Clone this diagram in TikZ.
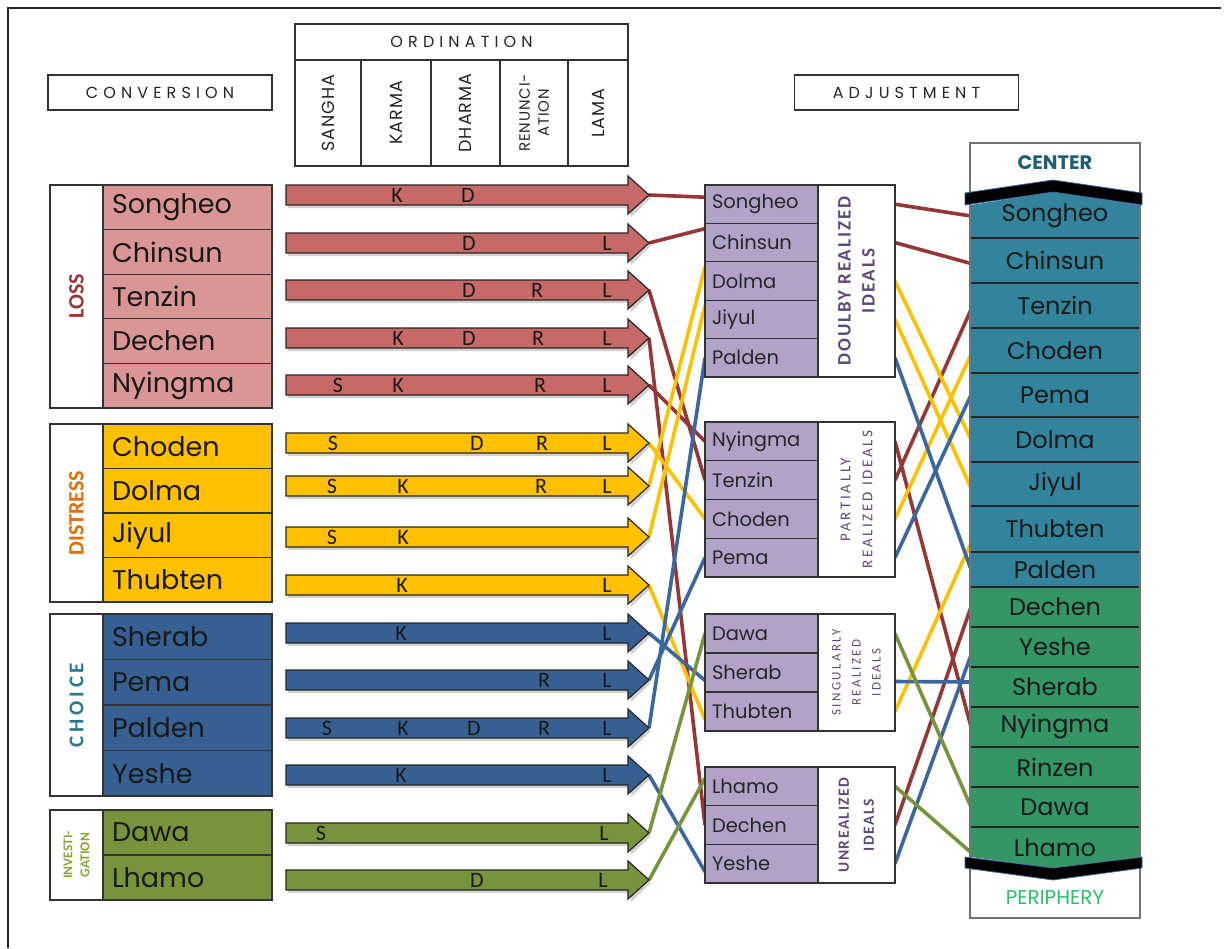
\documentclass[tikz,border=0pt]{standalone}
\usepackage{fontspec}
\setmainfont{Poppins}
\newfontfamily\cfont{Carlito}
\newfontfamily\widefont[LetterSpace=32]{Poppins}
\newfontfamily\colfont[LetterSpace=6]{Poppins}
\newfontfamily\cwide[LetterSpace=18]{Carlito}
\newfontfamily\cmid[LetterSpace=10]{Carlito}
\usetikzlibrary{calc}
\pgfdeclarelayer{background}
\pgfsetlayers{background,main}

\definecolor{lossfill}{HTML}{D99694}
\definecolor{lossarrow}{HTML}{C76966}
\definecolor{distfill}{HTML}{FFC000}
\definecolor{choicefill}{HTML}{376092}
\definecolor{invfill}{HTML}{77933C}
\definecolor{midfill}{HTML}{B3A2C7}
\definecolor{tealfill}{HTML}{31849B}
\definecolor{greenfill}{HTML}{339664}
\definecolor{linered}{HTML}{953735}
\definecolor{lineyellow}{HTML}{FFC000}
\definecolor{lineblue}{HTML}{3A67A0}
\definecolor{linegreen}{HTML}{77933C}
\definecolor{losstext}{HTML}{953735}
\definecolor{disttext}{HTML}{E46C0A}
\definecolor{choicetext}{HTML}{2A7890}
\definecolor{invtext}{HTML}{8AA43A}
\definecolor{idealtext}{HTML}{5F497A}
\definecolor{centertext}{HTML}{1F5F73}
\definecolor{peritext}{HTML}{2DBE6C}

\tikzset{
  every node/.style={inner sep=0pt, outer sep=0pt},
  boxline/.style={draw=black!80, line width=1.3pt},
  titlebox/.style={boxline, fill=white, minimum width=224, minimum height=35,
    font=\widefont\fontsize{16}{18}\selectfont, text=black!85},
  ordcell/.style={boxline, fill=white},
  ordtext/.style={rotate=90, align=center, font=\colfont\fontsize{17.5}{19}\selectfont, text=black!85},
  glabel/.style={boxline, fill=white, minimum width=53},
  lname/.style={boxline, minimum width=169, text width=151, align=left,
    font=\fontsize{27}{30}\selectfont, text=black!90},
  mname/.style={boxline, fill=midfill, minimum width=113, text width=99, align=left,
    font=\fontsize{19.5}{21}\selectfont, text=black!85},
  mlabel/.style={boxline, fill=white, minimum width=77},
  mtext/.style={rotate=90, align=center, text=idealtext},
  stext/.style={minimum width=168, font=\fontsize{24}{27}\selectfont, text=black!90},
  arrowedge/.style={draw=black!85, line width=1.2pt},
  ltr/.style={font=\cfont\fontsize{22}{22}\selectfont, text=black!90},
  conn/.style={line width=3.6pt},
  cred/.style={conn, draw=linered},
  cyel/.style={conn, draw=lineyellow},
  cblu/.style={conn, draw=lineblue},
  cgrn/.style={conn, draw=linegreen},
}

% conversion arrow: name, centre y, fill colour, letters (x/letter)
\newcommand\convarrow[4]{%
  \fill[black, opacity=.18] (288,#2-7) -- (631,#2-7) -- (631,#2-16) -- (651,#2+3)
    -- (631,#2+22) -- (631,#2+13) -- (288,#2+13) -- cycle;
  \draw[arrowedge, fill=#3] (286,#2-10) -- (628,#2-10) -- (628,#2-19) -- (649,#2)
    -- (628,#2+19) -- (628,#2+10) -- (286,#2+10) -- cycle;
  \coordinate (a#1) at (649,#2);
  \foreach \lpos/\lchr in {#4} \node[ltr] (a#1\lchr) at (\lpos,#2) {\lchr};
}

\begin{document}
\begin{tikzpicture}[x=1pt,y=-1pt]
\useasboundingbox (0,0) rectangle (1228,948);
\draw[black!85, line width=1.5pt] (8,948) -- (8,8) -- (1221,8);

% ---------- headings ----------
\node[titlebox] (conv) at (160,92.5) {CONVERSION};
\node[titlebox] (adj) at (906.5,92.5) {ADJUSTMENT};

\node[ordcell, minimum width=333, minimum height=36, font=\widefont\fontsize{16}{18}\selectfont, text=black!85]
  (ordH) at (461.5,42) {ORDINATION};
\node[ordcell, minimum width=66, minimum height=106] (oc1) at (328,113) {};
\node[ordcell, minimum width=70, minimum height=106] (oc2) at (396,113) {};
\node[ordcell, minimum width=69, minimum height=106] (oc3) at (465.5,113) {};
\node[ordcell, minimum width=68, minimum height=106] (oc4) at (534,113) {};
\node[ordcell, minimum width=60, minimum height=106] (oc5) at (598,113) {};
\node[ordtext] (ot1) at (oc1) {SANGHA};
\node[ordtext] (ot2) at (oc2) {KARMA};
\node[ordtext] (ot3) at (oc3) {DHARMA};
\node[ordtext, font=\colfont\fontsize{15}{19}\selectfont] (ot4) at (oc4) {RENUNCI-\\ATION};
\node[ordtext] (ot5) at (oc5) {LAMA};

% ---------- conversion groups ----------
\node[glabel, minimum height=223] (gLoss) at (76.5,296.5) {};
\node[rotate=90, font=\cfont\bfseries\fontsize{22}{22}\selectfont, text=losstext] (tLoss) at (gLoss) {LOSS};
\foreach \n/\c in {Songheo/207.3,Chinsun/251.9,Tenzin/296.5,Dechen/341.1,Nyingma/385.7}
  \node[lname, fill=lossfill, minimum height=44.6] (l\n) at (187.5,\c) {\n};

\node[glabel, minimum height=178] (gDist) at (76.5,513) {};
\node[rotate=90, font=\cfont\bfseries\fontsize{22}{22}\selectfont, text=disttext] (tDist) at (gDist) {DISTRESS};
\foreach \n/\c in {Choden/446.25,Dolma/490.75,Jiyul/535.25,Thubten/579.75}
  \node[lname, fill=distfill, minimum height=44.5] (l\n) at (187.5,\c) {\n};

\node[glabel, minimum height=182] (gChoice) at (76.5,705) {};
\node[rotate=90, font=\cwide\bfseries\fontsize{21}{22}\selectfont, text=choicetext] (tChoice) at (gChoice) {CHOICE};
\foreach \n/\c in {Sherab/636.75,Pema/682.25,Palden/727.75,Yeshe/773.25}
  \node[lname, fill=choicefill, minimum height=45.5] (l\n) at (187.5,\c) {\n};

\node[glabel, minimum height=90] (gInv) at (76.5,855) {};
\node[rotate=90, align=center, font=\cfont\bfseries\fontsize{13.5}{17}\selectfont, text=invtext] (tInv) at (gInv) {INVESTI-\\GATION};
\foreach \n/\c in {Dawa/832.5,Lhamo/877.5}
  \node[lname, fill=invfill, minimum height=45] (l\n) at (187.5,\c) {\n};

% ---------- ordination arrows ----------
\convarrow{Songheo}{195}{lossarrow}{397/K,468/D}
\convarrow{Chinsun}{243}{lossarrow}{469/D,607/L}
\convarrow{Tenzin}{290}{lossarrow}{469/D,537/R,607/L}
\convarrow{Dechen}{338}{lossarrow}{398/K,469/D,538/R,607/L}
\convarrow{Nyingma}{385}{lossarrow}{338/S,398/K,540/R,607/L}
\convarrow{Choden}{443}{distfill}{333/S,477/D,542/R,607/L}
\convarrow{Dolma}{486}{distfill}{332/S,403/K,541/R,607/L}
\convarrow{Jiyul}{537}{distfill}{332/S,403/K}
\convarrow{Thubten}{585}{distfill}{402/K,607/L}
\convarrow{Sherab}{633}{choicefill}{401/K,607/L}
\convarrow{Pema}{680}{choicefill}{544/R,607/L}
\convarrow{Palden}{728}{choicefill}{327/S,403/K,474/D,544/R,607/L}
\convarrow{Yeshe}{775}{choicefill}{401/K,607/L}
\convarrow{Dawa}{833}{invfill}{321/S,604/L}
\convarrow{Lhamo}{880}{invfill}{477/D,603/L}

% ---------- adjustment groups ----------
\foreach \n/\c in {Songheo/204.2,Chinsun/242.6,Dolma/281,Jiyul/319.4,Palden/357.8}
  \node[mname, minimum height=38.4] (m\n) at (761.5,\c) {\n};
\node[mlabel, minimum height=192] (dLab) at (856.5,281) {};
\node[mtext, font=\cmid\bfseries\fontsize{19}{24}\selectfont] (dLabT) at (dLab) {DOULBY REALIZED\\IDEALS};

\foreach \n/\c in {Nyingma/441.4,Tenzin/480.1,Choden/518.9,Pema/557.6}
  \node[mname, minimum height=38.75] (m\n) at (761.5,\c) {\n};
\node[mlabel, minimum height=155] (pLab) at (856.5,499.5) {};
\node[mtext, font=\cwide\fontsize{15}{22}\selectfont] (pLabT) at (pLab) {PARTIALLY\\REALIZED IDEALS};

\foreach \n/\c in {Dawa/633.5,Sherab/672.5,Thubten/711.5}
  \node[mname, minimum height=39] (m\n) at (761.5,\c) {\n};
\node[mlabel, minimum height=117] (sgLab) at (856.5,672.5) {};
\node[mtext, font=\cwide\fontsize{13}{20}\selectfont] (sgLabT) at (sgLab) {SINGULARLY\\REALIZED\\IDEALS};

\foreach \n/\c in {Lhamo/786.3,Dechen/825,Yeshe/863.7}
  \node[mname, minimum height=38.7] (m\n) at (761.5,\c) {\n};
\node[mlabel, minimum height=116] (uLab) at (856.5,825) {};
\node[mtext, font=\cmid\bfseries\fontsize{15.5}{25}\selectfont] (uLabT) at (uLab) {UNREALIZED\\IDEALS};

% ---------- centre / periphery column ----------
\node[draw=black!55, line width=1.5pt, fill=white, minimum width=170, minimum height=775] (cBox) at (1055,530.5) {};
\fill[tealfill] (971,205) -- (1053,192) -- (1139,205) -- (1139,587) -- (971,587) -- cycle;
\fill[greenfill] (971,587) -- (1139,587) -- (1139,857) -- (1053,868) -- (971,857) -- cycle;
\foreach \yy in {238,283,328,373,417,462,506,552,587,627,667,707,747,787,827}
  \draw[black!85, line width=1.2pt] (971,\yy) -- (1139,\yy);
\foreach \n/\c/\h in {Songheo/216/42,Chinsun/260.5/45,Tenzin/305.5/45,Choden/350.5/45,Pema/395/44,
    Dolma/439.5/45,Jiyul/484/44,Thubten/529/46,Palden/569.5/35}
  \node[stext, minimum height=\h] (s\n) at (1055,\c) {\n};
\foreach \n/\c/\h in {Dechen/607/40,Yeshe/647/40,Sherab/687/40,Nyingma/727/40,Rinzen/767/40,
    Dawa/807/40,Lhamo/847.5/41}
  \node[stext, minimum height=\h] (s\n) at (1055,\c) {\n};
\draw[draw=lineblue, line width=0.8pt, fill=black] (965,193) -- (1053,180) -- (1142,193)
  -- (1142,205) -- (1053,192) -- (965,205) -- cycle;
\draw[draw=lineblue, line width=0.8pt, fill=black] (965,857) -- (1053,868) -- (1142,857)
  -- (1142,868) -- (1053,880) -- (965,868) -- cycle;
\node[font=\bfseries\fontsize{19.5}{22}\selectfont, text=centertext] (cTitle) at (1055,163) {CENTER};
\node[font=\fontsize{20}{22}\selectfont, text=peritext] (pTitle) at (1055,898) {PERIPHERY};

% ---------- connectors, kept behind the boxes ----------
\begin{pgfonlayer}{background}
% conversion -> adjustment
\draw[cred] (aSongheo) -- ($(mSongheo.west)+(0,-7)$);
\draw[cred] (aChinsun) -- ($(mChinsun.west)+(0,-14)$);
\draw[cred] (aTenzin) -- (mTenzin.west);
\draw[cred] (aDechen) -- (mDechen.west);
\draw[cred] (aNyingma) -- (mNyingma.west);
\draw[cyel] (aChoden) -- (mChoden.west);
\draw[cyel] (aDolma) -- ($(mDolma.west)+(0,-14)$);
\draw[cyel] (aJiyul) -- ($(mJiyul.west)+(0,-14)$);
\draw[cyel] (aThubten) -- ($(mThubten.west)+(0,8)$);
\draw[cblu] (aSherab) -- ($(mSherab.west)+(0,8)$);
\draw[cblu] (aPema) -- (mPema.west);
\draw[cblu] (aPalden) -- (mPalden.west);
\draw[cblu] (aYeshe) -- ($(mYeshe.west)+(0,8)$);
\draw[cgrn] (aDawa) -- (mDawa.west);
\draw[cgrn] (aLhamo) -- ($(mLhamo.west)+(0,-8)$);
% adjustment -> centre / periphery
\draw[cred] (mSongheo -| dLab.east) -- (sSongheo.west);
\draw[cred] (mChinsun -| dLab.east) -- ($(sChinsun.west)+(0,3)$);
\draw[cred] (mTenzin -| pLab.east) -- ($(sTenzin.west)+(0,4)$);
\draw[cred] (mNyingma -| pLab.east) -- (sNyingma.west);
\draw[cred] (mDechen -| uLab.east) -- (sDechen.west);
\draw[cyel] (mDolma -| dLab.east) -- (sDolma.west);
\draw[cyel] (mJiyul -| dLab.east) -- ($(sJiyul.west)+(0,4)$);
\draw[cyel] (mChoden -| pLab.east) -- ($(sChoden.west)+(0,4)$);
\draw[cyel] (mThubten -| sgLab.east) -- ($(sThubten.west)+(0,14)$);
\draw[cblu] (mPalden -| dLab.east) -- (sPalden.west);
\draw[cblu] (mPema -| pLab.east) -- (sPema.west);
\draw[cblu] ($(mSherab -| sgLab.east)+(0,9)$) -- ($(sSherab.west)+(0,-5)$);
\draw[cblu] (mYeshe -| uLab.east) -- ($(sYeshe.west)+(0,8)$);
\draw[cgrn] (mDawa -| sgLab.east) -- (sDawa.west);
\draw[cgrn] (mLhamo -| uLab.east) -- ($(sLhamo.west)+(0,5)$);
\end{pgfonlayer}
\end{tikzpicture}
\end{document}
